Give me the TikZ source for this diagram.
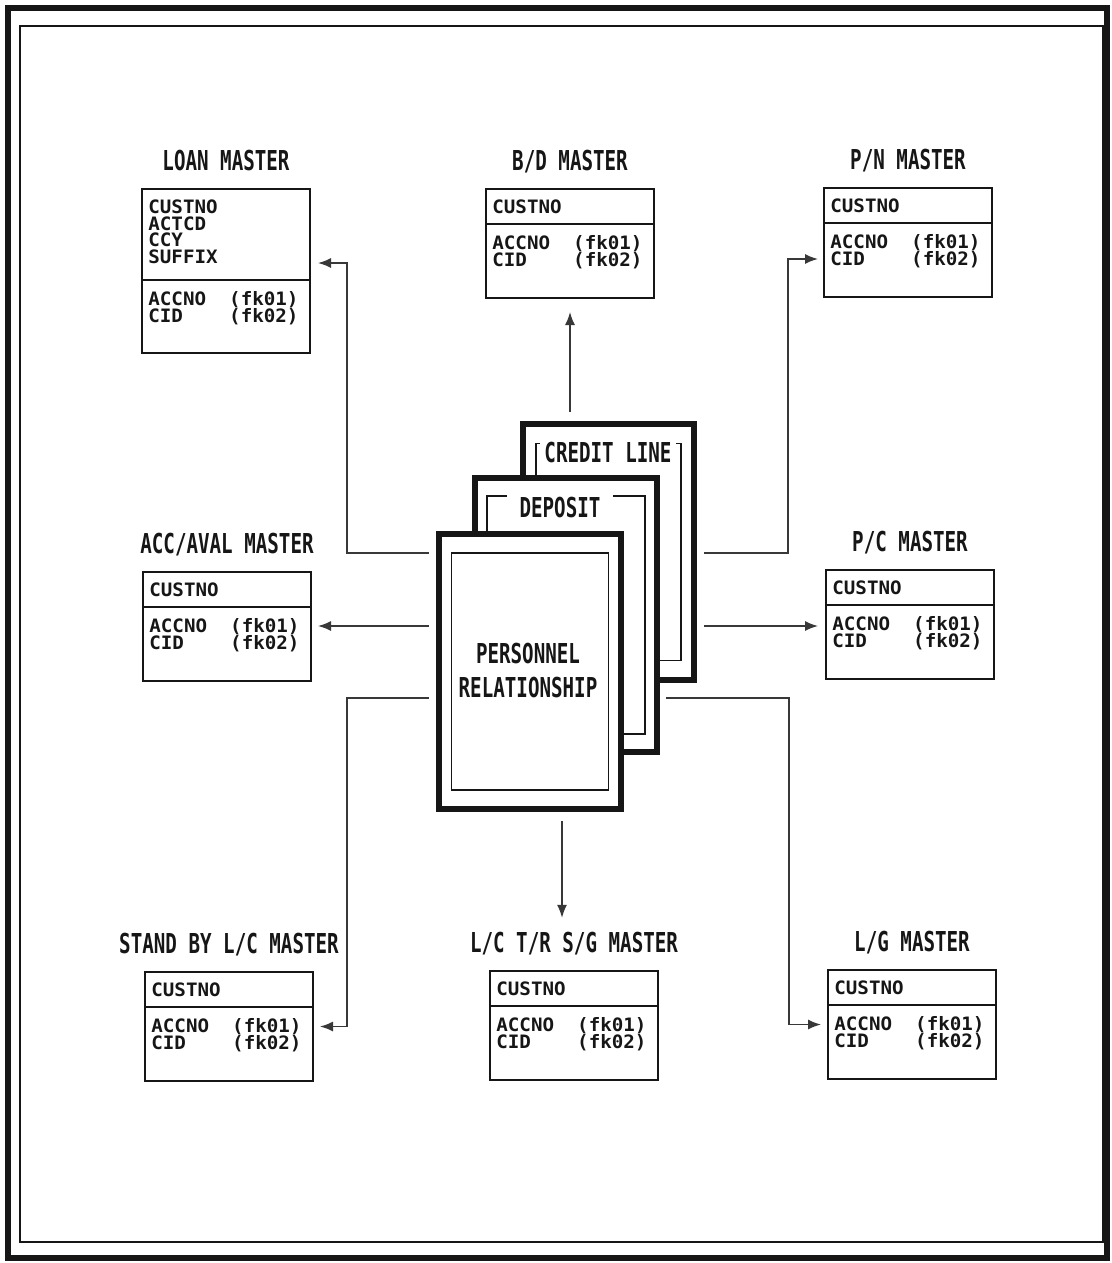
\documentclass[tikz,border=0pt]{standalone}
\usepackage{fontspec}
\usepackage{tikz}
\usetikzlibrary{arrows.meta,positioning,calc}
\newfontfamily\titlefont[FakeStretch=0.7]{DejaVu Sans Mono}
\newfontfamily\fieldfont[FakeStretch=1.04]{DejaVu Sans Mono}
\definecolor{PRInk}{HTML}{161616}
\definecolor{PRLine}{HTML}{383838}
% one master file: box, title, key part, foreign keys
\newcommand{\entity}[6][]{%
  \node[entbox,#1] (#2) at (#3) {};
  \node[enttitle, above=3.5mm of #2.north, anchor=base] (#2-title) {#4};
  \draw[entrule] ([yshift=-#6]#2.north west) -- ([yshift=-#6]#2.north east);
  \node[entfield] (#2-key) at ([xshift=1.4mm,yshift=-2.3mm]#2.north west) {#5};
  \node[entfield] (#2-fk) at ([xshift=1.4mm,yshift=-#6-2.3mm]#2.north west)
    {ACCNO\ \ (fk01)\\CID\ \ \ \ (fk02)};
}
\tikzset{
  >={Latex[length=2.6mm,width=2mm]},
  entbox/.style={draw=PRInk, line width=0.4mm, anchor=north west,
    minimum width=33.6mm, minimum height=21.8mm, inner sep=0pt},
  entrule/.style={draw=PRInk, line width=0.4mm},
  enttitle/.style={font=\titlefont\bfseries\fontsize{15.6}{18}\selectfont,
    text=PRInk, inner sep=0.5mm},
  entfield/.style={font=\fieldfont\bfseries\fontsize{10.5}{9.4}\selectfont,
    text=PRInk, anchor=north west, align=left, inner sep=0pt},
  cardframe/.style={draw=PRInk, line width=1.3mm, fill=white},
  cardinner/.style={draw=PRInk, line width=0.35mm},
  cardtitle/.style={enttitle, fill=white, inner ysep=1mm},
  relarrow/.style={->, draw=PRLine, line width=0.3mm}
}
\begin{document}
\begin{tikzpicture}[x=0.2mm, y=-0.2mm]
  \useasboundingbox (0,0) rectangle (1111,1263);
  \draw[PRInk, line width=1.2mm] (8,8) rectangle (1107,1258);
  \draw[PRInk, line width=0.35mm] (20,26) rectangle (1103,1242);

  % the master files
  \entity[minimum height=32.8mm]{loan}{141,188}{LOAN MASTER}
    {CUSTNO\\ACTCD\\CCY\\SUFFIX}{18.4mm}
  \entity{bd}{485,188}{B/D MASTER}{CUSTNO}{7.2mm}
  \entity{pn}{823,187}{P/N MASTER}{CUSTNO}{7.2mm}
  \entity{acc}{142,571}{ACC/AVAL MASTER}{CUSTNO}{7.2mm}
  \entity{pc}{825,569}{P/C MASTER}{CUSTNO}{7.2mm}
  \entity{sblc}{144,971}{STAND BY L/C MASTER}{CUSTNO}{7.2mm}
  \entity{lctr}{489,970}{L/C T/R S/G MASTER}{CUSTNO}{7.2mm}
  \entity{lg}{827,969}{L/G MASTER}{CUSTNO}{7.2mm}

  % stacked relationship cards, back to front
  \node[cardframe, minimum width=34.2mm, minimum height=51.2mm] (credit) at (608.5,552) {};
  \node[cardinner, minimum width=29mm, minimum height=43.4mm] (credit-in) at (credit.center) {};
  \node[cardtitle, inner xsep=0.8mm] (credit-text) at (608,453) {CREDIT LINE};

  \node[cardframe, minimum width=36.4mm, minimum height=54.8mm] (deposit) at (566,615) {};
  \node[cardinner, minimum width=31.6mm, minimum height=47.6mm] (deposit-in) at (deposit.center) {};
  \node[cardtitle, inner xsep=2.6mm] (deposit-text) at (560,508) {DEPOSIT};

  \node[cardframe, minimum width=36.4mm, minimum height=55mm] (person) at (530,671.5) {};
  \node[cardinner, minimum width=31.4mm, minimum height=47.4mm] (person-in) at (person.center) {};
  \node[enttitle, align=center, inner sep=0pt,
    font=\titlefont\bfseries\fontsize{15.6}{19.9}\selectfont] (person-text) at (528,670.5)
    {PERSONNEL\\RELATIONSHIP};

  \coordinate (rowtop) at (530,553);
  \coordinate (rowmid) at (530,626);
  \coordinate (rowlow) at (530,698);

  % links
  \draw[relarrow, shorten >=2.6mm] ([yshift=1.8mm]bd.south |- credit.north) -- (bd.south);
  \draw[relarrow, shorten >=1.4mm] ([xshift=-1.4mm]person.west |- rowtop)
    -| ([xshift=7.2mm,yshift=1.6mm]loan.east) -- ([yshift=1.6mm]loan.east);
  \draw[relarrow, shorten >=1.2mm] ([xshift=-1.4mm]person.west |- rowmid) -- (acc.east |- rowmid);
  \draw[relarrow, shorten >=1.2mm] ([xshift=-1.4mm]person.west |- rowlow)
    -| ([xshift=6.6mm]sblc.east) -- (sblc.east);
  \draw[relarrow, shorten >=2.3mm] ([xshift=6.4mm,yshift=-1.8mm]person.south)
    -- ([xshift=6.4mm]person.south |- lctr-title.north);
  \draw[relarrow, shorten >=1mm] ([xshift=1.4mm]credit.east |- rowtop)
    -| ([xshift=-7mm,yshift=-3.3mm]pn.west) -- ([yshift=-3.3mm]pn.west);
  \draw[relarrow, shorten >=1.4mm] ([xshift=1.4mm]credit.east |- rowmid) -- (pc.west |- rowmid);
  \draw[relarrow, shorten >=1.2mm] ([xshift=1.2mm]deposit.east |- rowlow)
    -| ([xshift=-7.6mm]lg.west) -- (lg.west);
\end{tikzpicture}
\end{document}
